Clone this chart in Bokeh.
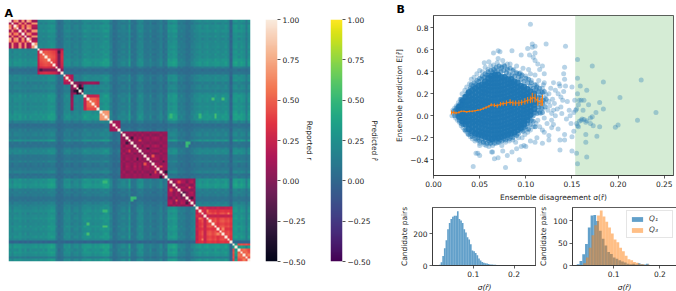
import numpy as np
from bokeh.embed import file_html
from bokeh.resources import INLINE
from bokeh.layouts import row, column
from bokeh.plotting import figure
from bokeh.models import (LinearColorMapper, LinearAxis, FixedTicker, BoxAnnotation, Title)
from bokeh.palettes import Viridis256

# ---- heatmap values (per-index estimates)
row_level = [.03,.00,.04,.02,.05,.01,.04,.00,.03,.02,.03,
             .02,.03,.04,.03,.07,.08,.07,-.03,-.10,-.07,
             .01,.02,.03,-.02,-.01,.01,-.02,.02,
             .06,.05,.04,.03,.05,.04,.05,.08,.09,.08,
             -.02,-.09,-.08,-.03,
             -.02,-.01,-.03,.07,-.07,-.08,-.01,.03,.02,-.05,-.06,-.01,-.07,-.08,-.05,-.01,-.08,-.07,
             .08,.06,.09,.08,-.03,-.02,-.04,-.08,-.07,-.03,.01,
             .02,.05,.03,.04,.06,.04,.03,.07,.05,.03,.05,.06,.02,
             -.14,.07,.09,.06,.08,.05,-.04,.06]
row_grain = [.1,-.2,.15,.2,-.1,.1,-.2,.2,-.15,.1,.2,-.1,.2,-.2,.15,-.1,.2,.1,-.2,.15,-.1,
             .2,-.15,.1,-.2,.2,.1,-.1,.15,-.2,.1,.2,-.15,.1,-.1,.2,.15,-.2,.1,.2,-.15,.1,-.2,
             .15,.2,-.1,.2,-.2,.1,.15,-.15,.2,-.1,.1,-.2,.2,.15,-.1,.1,-.2,.2,
             -.15,.2,.1,-.1,.2,-.2,.15,.1,-.15,.2,-.1,
             .2,.15,-.2,.1,.2,-.1,.15,-.2,.2,.1,-.15,.2,-.1,.15,
             .1,.2,-.2,.15,.1,-.1,.2]
block_start = [0,11,21,24,29,35,39,43,61,72,86]
block_end   = [11,21,25,29,35,39,43,61,72,86,93]
block_base  = [.4,.12,.12,-.02,.28,.5,.05,.07,.08,.28,.3]
block_gain  = [.6,-.5,.4,.55,-.5,.45,-.5,.6,.4,-.55,-.55,
               .2,.55,.6,.65,.6,.55,.5,.3,-.25,.3,
               .3,.4,.35,.1,.35,.4,-.45,.3,
               -.1,.45,.5,.5,.45,.3,.4,.45,.45,.4,
               .2,.3,.3,.2,
               .15,-.2,.25,.1,-.15,.3,-.1,.2,-.3,.1,.25,-.15,.2,.35,.2,-.2,.15,.1,
               .1,.3,-.2,.25,-.1,.3,.2,-.3,.2,.35,-.15,
               -.15,.2,.4,-.1,.35,.45,.3,.45,.2,.4,.45,.3,.4,.2,
               .3,0,.4,.5,.4,.5,.3]
block_skip = [87]
spot_i = [26,25,26,19,24,24,24,24,24,24,45,49,52,56,58,50,54,64,68,62,66,76,80,84,88,90,47,47,48,30,30,62,62,73,73,79,79]
spot_j = [27,27,28,12,29,30,31,32,33,34,47,53,55,58,60,46,59,69,70,65,67,73,82,74,90,92,68,69,68,78,82,36,37,36,37,36,37]
spot_v = [-.42,-.3,-.35,-.2,.05,.08,.08,.1,.08,.05,-.25,-.2,.45,.4,-.3,.35,-.15,.45,-.2,.4,-.15,.55,.62,.6,.55,.6,.52,.48,.5,.55,.55,.5,.5,.5,.5,.55,.55]

# ---- panel B scatter (estimated)
core_sigma = [.028,.0315,.035,.0385,.042,.0455,.049,.0525,.056,.0595,.063,.0665,.07,.0735,.077,.0805,.084,.0875,.091,.0945,.098,.1015,.105,.109]
core_mean = [
 [-.01,.02,.05,.08],
 [-.05,-.02,.01,.04,.07,.1,.13],
 [-.08,-.05,-.01,.03,.06,.1,.13,.17],
 [-.12,-.08,-.04,-.01,.03,.07,.1,.14,.17,.21],
 [-.14,-.1,-.06,-.03,.01,.05,.08,.12,.15,.19,.23],
 [-.16,-.12,-.08,-.05,-.01,.03,.07,.1,.14,.17,.21,.25],
 [-.17,-.14,-.1,-.06,-.03,.01,.05,.08,.12,.15,.19,.23,.27],
 [-.18,-.15,-.11,-.07,-.04,0,.03,.07,.11,.14,.18,.21,.25,.28],
 [-.19,-.16,-.12,-.08,-.05,-.01,.03,.06,.1,.13,.17,.21,.24,.28,.31],
 [-.2,-.16,-.13,-.09,-.05,-.02,.02,.05,.09,.13,.16,.2,.23,.27,.3,.34],
 [-.21,-.17,-.13,-.1,-.06,-.03,.01,.05,.08,.12,.15,.19,.23,.26,.3,.33,.36],
 [-.2,-.17,-.13,-.09,-.06,-.02,.01,.05,.09,.12,.16,.19,.23,.27,.3,.34,.37],
 [-.2,-.16,-.13,-.09,-.06,-.02,.02,.05,.09,.12,.16,.2,.23,.27,.3,.34,.37],
 [-.19,-.16,-.12,-.09,-.05,-.01,.02,.06,.09,.13,.17,.2,.24,.27,.31,.35],
 [-.18,-.15,-.11,-.08,-.04,-.01,.03,.07,.1,.14,.17,.21,.24,.28,.32,.35],
 [-.17,-.14,-.1,-.07,-.03,.01,.04,.08,.11,.15,.18,.22,.26,.29,.33],
 [-.16,-.13,-.09,-.06,-.02,.02,.05,.09,.12,.16,.2,.23,.27,.3,.33],
 [-.15,-.11,-.08,-.04,-.01,.03,.06,.1,.14,.17,.21,.24,.28,.31],
 [-.13,-.1,-.06,-.03,.01,.04,.08,.12,.15,.19,.22,.26,.3],
 [-.11,-.08,-.05,-.01,.02,.06,.1,.13,.17,.2,.24,.27],
 [-.08,-.05,-.02,.02,.05,.09,.12,.16,.19,.23,.26],
 [-.04,-.01,.03,.06,.1,.13,.17,.2,.24],
 [.01,.04,.08,.11,.15,.18,.22],
 [.06,.1,.13,.17,.2]]
mid_points = [(.03,.15),(.032,.14),(.034,.17),(.036,.2),(.038,.22),(.04,.25),(.041,.28),(.043,.27),(.044,.3),(.046,.28),(.047,.32),(.049,.31),(.05,.34),(.052,.33),(.053,.36),(.055,.35),(.056,.38),(.058,.37),(.059,.4),(.06,.37),(.062,.41),(.064,.39),(.065,.42),(.067,.4),(.068,.44),(.07,.41),(.071,.45),(.073,.4),(.074,.44),(.076,.41),(.077,.45),(.079,.39),(.08,.42),(.082,.38),(.083,.43),(.085,.37),(.086,.41),(.088,.36),(.09,.39),(.092,.35),(.093,.38),(.095,.33),(.096,.37),(.098,.31),(.1,.34),(.102,.3),(.103,.33),(.105,.27),(.106,.3),(.108,.25),(.11,.28),(.111,.24),(.112,.26),(.114,.22),(.115,.25),(.116,.19),(.118,.21),
 (.112,.02),(.113,.05),(.114,.08),(.112,.12),(.115,.13),(.113,.17),(.116,.16),(.118,.11),(.119,.14),(.117,.07),(.115,.03),(.118,.03),(.121,.08),(.122,.15),(.12,.22),
 (.106,.04),(.108,.0),(.104,-.02),(.11,.03),(.106,-.04),(.102,-.07),(.1,-.1),(.098,-.11),(.097,-.14),(.095,-.13),(.092,-.16),(.09,-.18),(.088,-.17),(.086,-.2),(.084,-.19),(.082,-.21),(.08,-.2),(.078,-.22),(.076,-.21),(.074,-.23),(.072,-.22),(.07,-.24),(.068,-.22),(.066,-.25),(.064,-.23),(.062,-.25),(.06,-.23),(.058,-.25),(.056,-.22),(.054,-.24),(.052,-.21),(.05,-.23),(.048,-.2),(.046,-.21),(.044,-.18),(.042,-.19),(.04,-.16),(.038,-.17),(.036,-.13),(.034,-.13),(.032,-.08),(.03,-.07),(.028,-.04),(.026,.0),(.025,.03),(.024,.05),(.026,.06),(.027,.09),(.029,.11),(.031,.14),(.022,.04),(.023,.0),(.025,.07),(.105,-.08),(.108,-.05),(.103,-.12),(.11,-.1)]
edge_points = [(.241,.03),(.225,.325),(.221,-.04),(.202,.165),(.200,-.085),(.197,-.105),(.184,.305),(.184,.06),(.180,.12),(.180,-.10),(.177,-.185),(.176,.03),(.172,.45),(.172,-.01),(.173,-.09),(.170,-.02),(.170,-.07),(.166,-.375),(.166,.23),(.165,-.24),(.165,-.17),(.163,.14),(.162,.05),(.160,.14),(.159,.27),(.158,.14),(.156,.34),(.156,.51),(.156,-.435),(.155,-.34),(.157,.10),(.157,-.10),(.153,.14),(.154,.05),(.152,.03),(.160,-.04),(.163,-.035),(.158,-.05),(.166,-.045),(.155,-.07),(.168,.10),(.155,.06),(.156,-.09),(.156,.20),(.161,-.03),(.165,-.06),
 (.143,.63),(.142,.44),(.141,.38),(.142,.33),(.141,.22),(.150,.26),(.143,.27),(.137,.27),(.14,.14),(.138,.17),(.132,.23),(.135,.20),(.138,.08),(.145,.13),(.147,.05),(.148,.0),(.144,-.03),(.149,-.07),(.152,-.14),(.142,-.22),(.142,-.17),(.137,-.22),(.137,-.31),(.15,-.19),(.15,-.32),(.125,.13),(.126,.09),(.13,.05),(.132,.0),(.128,-.04),(.13,-.08),(.128,-.11),(.135,-.12),(.125,-.18),(.12,-.15),(.125,-.22),(.125,.2),(.13,.3),(.12,.38),(.12,.3),(.118,.25),(.122,.65),(.11,.63),(.107,.65),(.107,.62),(.105,.83),(.102,.61),(.11,.57),(.104,.55),(.108,.53),(.113,.47),(.115,.42),(.118,.45),(.11,.5),(.095,.55),(.085,.59),(.07,.59),(.065,.57),(.072,.58),(.06,.49),(.055,.48),(.065,.46),(.07,.52),(.075,.5),(.08,.47),(.08,-.36),(.078,-.47),(.066,-.39),(.064,-.33),(.063,-.33),(.05,-.36),(.048,-.34),(.046,-.34),(.043,-.46),(.055,-.26),(.05,-.27),(.06,-.28),(.07,-.38),(.075,-.32),(.085,-.33),(.09,-.3),(.093,-.4),(.095,-.28),(.098,-.27),(.1,-.28),(.11,-.24),(.112,-.2),(.118,-.25),(.105,-.23),
 (.02,.0),(.021,.05),(.022,.02),(.023,.07),(.024,-.02),(.025,.09),(.026,-.04),(.027,.12),(.028,-.06),(.029,.15),(.03,-.09),(.031,.2),(.032,-.11),(.034,.23),(.035,-.14),(.036,.26),(.037,-.16),(.039,.29),(.04,-.19),(.041,.33),(.042,-.21),(.044,.35),(.045,-.23),(.047,.38),(.048,-.22),(.05,.41),(.05,-.25),(.053,.4),(.054,-.24),(.056,.44),(.057,-.27),(.059,.42),(.061,-.25),(.062,.45),(.064,-.27),(.066,.42),(.068,-.25),(.069,.48),(.071,-.24),(.073,.43),(.074,-.27),(.076,.46),(.078,-.24),(.08,.43),(.082,-.23),(.083,.47),(.086,-.22),(.087,.42),(.089,-.24),(.09,.45),(.092,-.2),(.094,.39),(.096,-.2),(.097,.43),(.099,-.17),(.1,.36),(.102,-.15),(.103,.42),(.105,-.13),(.106,.32),(.108,-.1),(.11,.37),(.111,-.07),(.112,.28),(.113,-.04),(.114,.32),(.115,-.1),(.116,.02),(.117,.22),(.118,.06),(.119,.28),(.12,-.02),(.121,.12),(.122,.19),(.123,-.07),(.124,.05),(.116,.1),(.114,.16),(.12,.16),(.112,.22),(.118,-.13),(.127,.25),(.129,.15),(.131,.11),(.134,.06),(.136,.29),(.139,.02),(.128,.02),(.033,-.03),(.03,.1),(.037,.2),(.033,.17),(.027,.05),(.09,.38),(.095,.36),(.105,.38),(.1,-.13),(.108,.02),(.113,.1)]

# ---- binned trend in panel B (estimated)
trend_sigma = [.0195,.022,.0245,.0275,.03,.033,.036,.039,.042,.045,.048,.051,.054,.057,.06,.0625,.066,.069,.0725,.0755,.079,.083,.086,.089,.0925,.0955,.099,.102,.105,.107,.110,.113,.1165,.118]
trend_mean = [.03,.03,.025,.03,.04,.04,.035,.04,.04,.045,.05,.055,.065,.075,.085,.10,.095,.09,.105,.11,.115,.125,.115,.115,.115,.12,.13,.14,.145,.165,.16,.13,.125,.14]
trend_err  = [.018,.016,.012,.01,.008,.008,.008,.008,.008,.008,.008,.008,.01,.012,.012,.014,.016,.018,.02,.02,.024,.024,.024,.024,.026,.026,.028,.03,.03,.044,.04,.04,.036,.05]

# ---- histograms (estimated)
hist_all_start = .016
hist_width = .004
hist_all = [4,20,60,110,160,230,270,295,310,315,315,345,295,285,270,230,210,180,165,135,95,90,80,65,45,32,22,17,14,12,10,7,6,5,5,3,3,2,2,1,1]
q_width = .006
q1_start = .020
q1_counts = [3,10,25,48,85,112,113,100,78,60,45,30,26,18,15,12,9,7,4,3,4,2,5,3,2,4,1,0,0,0,1]
q3_start = .034
q3_counts = [5,18,40,68,90,112,123,110,98,85,72,58,52,40,32,22,14,12,8,6,3,3,1,2]

cb_ticks = [-.5,-.25,0,.25,.5,.75,1]
cb_labels = {-.5:"\u22120.50",-.25:"\u22120.25",0:"0.00",.25:"0.25",.5:"0.50",.75:"0.75",1:"1.00"}

rocket_anchor = ["#03051a","#35193e","#701f57","#ad1759","#e13342","#f37651","#f6b48f","#faebdd"]

def hexrgb(h):
    return [int(h[k:k+2],16) for k in (1,3,5)]
anch = np.array([hexrgb(h) for h in rocket_anchor],float)
pos = np.linspace(0,1,len(rocket_anchor))
g = np.linspace(0,1,256)
rocket = ["#%02x%02x%02x"%tuple(int(np.interp(t,pos,anch[:,c])) for c in range(3)) for t in g]
rep_map = LinearColorMapper(palette=rocket,low=-.5,high=1)
pred_map = LinearColorMapper(palette="Viridis256",low=-.5,high=1)
# one image for both: predicted values use the first half of the palette, reported the second
heat_map = LinearColorMapper(palette=list(Viridis256)+rocket,low=-.5,high=2.5)

lv = np.array(row_level); gr = np.array(row_grain); bg = np.array(block_gain)
n = len(lv)
pred = .13 + lv[:,None] + lv[None,:] + 8*np.outer(lv,lv) + .7*np.outer(gr,gr)
rep = np.full((n,n),np.nan)
for a,b,base in zip(block_start,block_end,block_base):
    rep[a:b,a:b] = base + np.outer(bg[a:b],bg[a:b])
for i,j,v in zip(spot_i,spot_j,spot_v):
    if np.isnan(rep[i,j]) and i!=24:
        pred[i,j]=pred[j,i]=v
    else:
        rep[i,j]=rep[j,i]=v
for k in block_skip:
    rep[k,:]=np.nan; rep[:,k]=np.nan
np.fill_diagonal(rep,.999)
combined = np.where(np.isnan(rep),np.clip(pred,-.5,.999),np.clip(rep,-.5,.999)+1.5)

TICK = "7.5px"
def style(p):
    p.grid.visible=False
    p.outline_line_color="#333333"
    p.outline_line_width=.8
    for ax in p.axis:
        ax.major_tick_in=0; ax.major_tick_out=3; ax.minor_tick_line_color=None
        ax.major_label_text_font_size=TICK; ax.major_label_text_font="DejaVu Sans"
        ax.axis_label_text_font_size=TICK; ax.axis_label_text_font="DejaVu Sans"
        ax.axis_label_text_font_style="normal"; ax.major_label_standoff=2
        ax.axis_line_color="#333333"; ax.major_tick_line_color="#333333"
        ax.major_label_text_color="#222222"; ax.axis_label_text_color="#222222"
        ax.axis_line_width=.8; ax.major_tick_line_width=.8

def panel_title(text,offset):
    return Title(text=text,align="left",offset=offset,standoff=0,text_font="DejaVu Sans",text_font_style="bold",text_font_size="11px",text_color="black")

# heatmap
heat = figure(frame_width=242,frame_height=242,width=262,height=291,min_border_left=8,min_border_right=12,min_border_top=19,min_border_bottom=30,
              x_range=(0,n),y_range=(0,n),x_axis_location=None,y_axis_location=None,toolbar_location=None,output_backend="svg",title=panel_title("A",-4))
heat.grid.visible=False; heat.outline_line_color=None
heat.image(image=[combined[::-1]],x=0,y=0,dw=n,dh=n,color_mapper=heat_map)

def cbar(mapper,label,width,left,right):
    p = figure(frame_width=12,frame_height=242,width=width,height=291,min_border_left=left,min_border_right=right,min_border_top=19,min_border_bottom=30,
               x_range=(0,1),y_range=(-.5,1),x_axis_location=None,y_axis_location=None,toolbar_location=None,output_backend="svg")
    p.grid.visible=False; p.outline_line_color=None
    p.image(image=[np.linspace(-.5,1,256).reshape(-1,1)],x=0,y=-.5,dw=1,dh=1.5,color_mapper=mapper)
    ax = LinearAxis(ticker=FixedTicker(ticks=cb_ticks),major_label_overrides=cb_labels,axis_label=label)
    p.add_layout(ax,"right")
    ax.major_tick_in=0; ax.major_tick_out=3; ax.minor_tick_line_color=None
    ax.major_label_text_font_size=TICK; ax.major_label_text_font="DejaVu Sans"; ax.major_label_standoff=2
    ax.axis_label_text_font_size=TICK; ax.axis_label_text_font="DejaVu Sans"; ax.axis_label_text_font_style="normal"
    ax.axis_line_color=None; ax.major_tick_line_color="#555555"; ax.major_label_text_color="#222222"; ax.axis_label_text_color="#222222"
    ax.axis_label_standoff=-3
    return p
cb1 = cbar(rep_map,"Reported r",66,3,51)
cb2 = cbar(pred_map,"Predicted r\u0302",64,2,50)

# scatter
sc = figure(frame_width=240,frame_height=160,width=284,height=202,min_border_left=40,min_border_right=4,min_border_top=15,min_border_bottom=27,
            x_range=(0,.26),y_range=(-.542,.909),toolbar_location=None,output_backend="svg",title=panel_title("B",-37))
sc.add_layout(BoxAnnotation(left=.1535,right=.26,fill_color="#2ca02c",fill_alpha=.2,line_color=None,level="underlay"))
sx=[]; sy=[]
for x,ys in zip(core_sigma,core_mean):
    sx += [x]*len(ys); sy += ys
sc.scatter(sx,sy,size=6.5,color="#1f77b4",alpha=.9,line_color=None)
sc.scatter([q[0] for q in mid_points],[q[1] for q in mid_points],size=5,color="#1f77b4",alpha=.55,line_color=None)
sc.scatter([q[0] for q in edge_points],[q[1] for q in edge_points],size=5,color="#1f77b4",alpha=.32,line_color=None)
sc.line(trend_sigma,trend_mean,color="#ff7f0e",line_width=1.1)
sc.segment(trend_sigma,[m-e for m,e in zip(trend_mean,trend_err)],trend_sigma,[m+e for m,e in zip(trend_mean,trend_err)],color="#ff7f0e",line_width=1.1)
style(sc)
sc.xaxis.ticker=FixedTicker(ticks=[0,.05,.1,.15,.2,.25])
sc.xaxis.major_label_overrides={0:"0.00",.05:"0.05",.1:"0.10",.15:"0.15",.2:"0.20",.25:"0.25"}
sc.yaxis.ticker=FixedTicker(ticks=[-.4,-.2,0,.2,.4,.6,.8])
sc.yaxis.major_label_overrides={-.4:"\u22120.4",-.2:"\u22120.2",0:"0.0",.2:"0.2",.4:"0.4",.6:"0.6",.8:"0.8"}
sc.xaxis.axis_label="Ensemble disagreement \u03c3(r\u0302)"
sc.yaxis.axis_label="Ensemble prediction E[r\u0302]"
sc.xaxis.axis_label_standoff=3; sc.yaxis.axis_label_standoff=3

def bars(p,start,w,counts,**kw):
    left=[start+w*i for i in range(len(counts))]
    p.quad(left=left,right=[l+w for l in left],bottom=0,top=counts,line_color=None,**kw)

h1 = figure(frame_width=104,frame_height=58,width=144,height=89,min_border_left=40,min_border_right=0,min_border_top=3,min_border_bottom=28,
            x_range=(0,.255),y_range=(0,368),toolbar_location=None,output_backend="svg")
bars(h1,hist_all_start,hist_width,hist_all,fill_color="#1f77b4",fill_alpha=.7)
style(h1)
h1.xaxis.ticker=FixedTicker(ticks=[.1,.2]); h1.yaxis.ticker=FixedTicker(ticks=[0,200])
h1.xaxis.axis_label="\u03c3(r\u0302)"; h1.yaxis.axis_label="Candidate pairs"
h1.xaxis.axis_label_text_font_style="italic"
h1.xaxis.axis_label_standoff=3; h1.yaxis.axis_label_standoff=1

h2 = figure(frame_width=104,frame_height=58,width=140,height=89,min_border_left=32,min_border_right=4,min_border_top=3,min_border_bottom=28,
            x_range=(.0108,.236),y_range=(0,130),toolbar_location=None,output_backend="svg")
bars(h2,q1_start,q_width,q1_counts,fill_color="#1f77b4",fill_alpha=.7,legend_label="Q\u2081")
bars(h2,q3_start,q_width,q3_counts,fill_color="#ff7f0e",fill_alpha=.5,legend_label="Q\u2083")
style(h2)
h2.xaxis.ticker=FixedTicker(ticks=[.1,.2]); h2.yaxis.ticker=FixedTicker(ticks=[0,50,100])
h2.xaxis.axis_label="\u03c3(r\u0302)"; h2.yaxis.axis_label="Candidate pairs"
h2.xaxis.axis_label_text_font_style="italic"
h2.xaxis.axis_label_standoff=3; h2.yaxis.axis_label_standoff=2
lg=h2.legend[0]
lg.location="top_right"; lg.margin=3; lg.padding=3; lg.spacing=2
lg.glyph_width=14; lg.glyph_height=6; lg.label_text_font_size="7.5px"; lg.label_text_font="DejaVu Sans"
lg.label_text_font_style="italic"; lg.label_standoff=5
lg.border_line_color="#cccccc"; lg.background_fill_alpha=.8; lg.label_height=8

root = row(heat,cb1,cb2,column(sc,row(h1,h2,spacing=0),spacing=0),spacing=0,margin=0)
open("out.html","w").write(file_html(root,INLINE))
